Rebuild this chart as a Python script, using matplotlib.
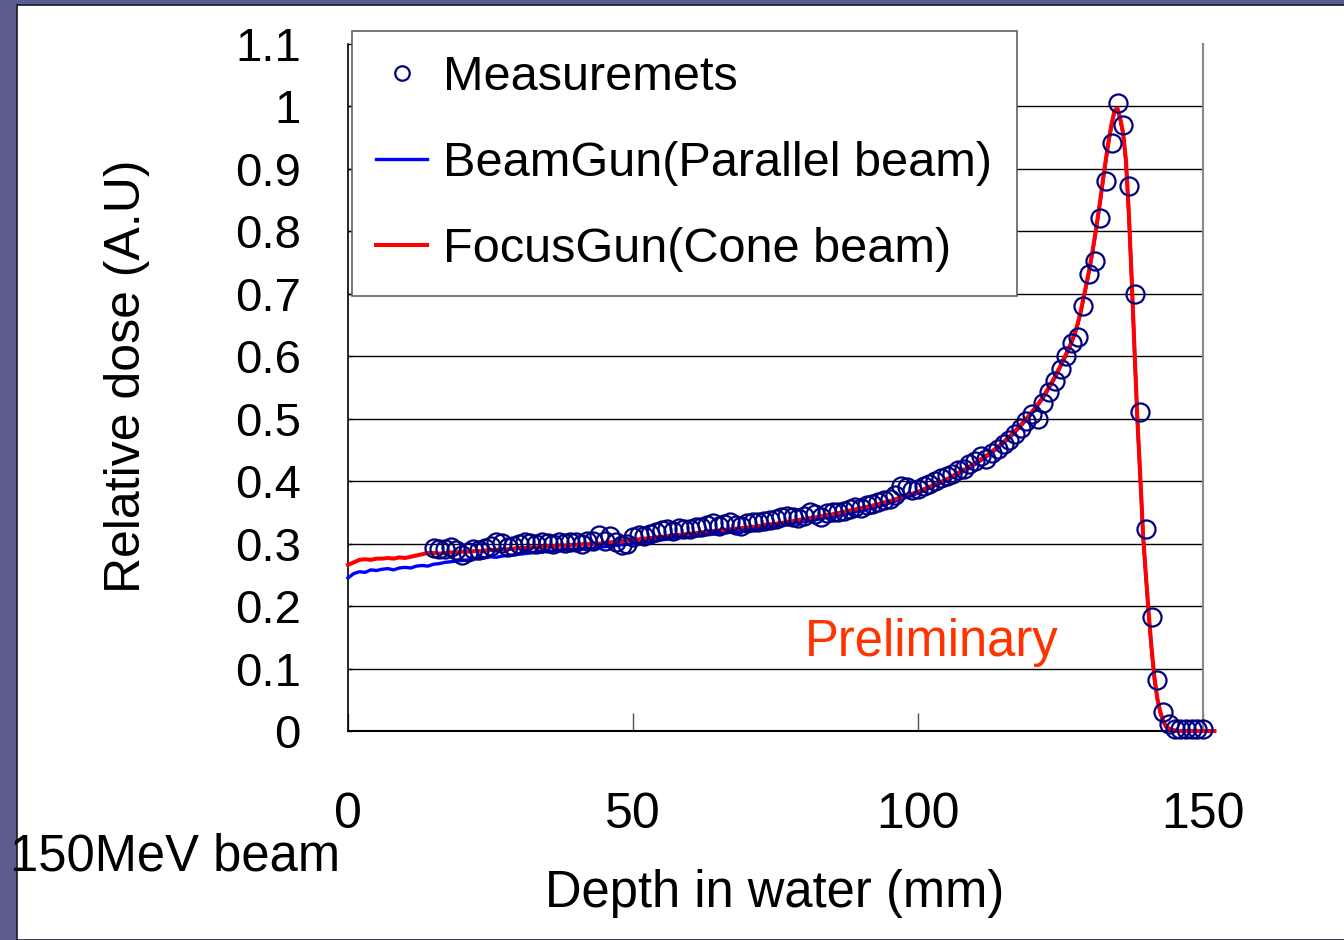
import numpy as np
import matplotlib
matplotlib.use("Agg")
import matplotlib.pyplot as plt
from matplotlib.patches import Rectangle

plt.rcParams["font.family"] = ["Liberation Sans", "DejaVu Sans"]

# --- data ---
# measurements, one every mm from 15 to 150 mm
meas_depth = np.arange(15, 151, 1)
meas_dose = [
    0.293, 0.292, 0.291, 0.294, 0.290, 0.282, 0.286, 0.292, 0.290, 0.293,
    0.296, 0.303, 0.301, 0.295, 0.297, 0.300, 0.302, 0.301, 0.300, 0.302,
    0.301, 0.300, 0.302, 0.301, 0.303, 0.302, 0.300, 0.304, 0.305, 0.314,
    0.305, 0.312, 0.302, 0.298, 0.299, 0.310, 0.314, 0.313, 0.315, 0.318,
    0.322, 0.324, 0.321, 0.325, 0.323, 0.324, 0.326, 0.327, 0.330, 0.333,
    0.328, 0.331, 0.334, 0.330, 0.328, 0.333, 0.335, 0.334, 0.336, 0.338,
    0.340, 0.342, 0.344, 0.343, 0.341, 0.345, 0.350, 0.348, 0.342, 0.349,
    0.351, 0.350, 0.352, 0.356, 0.358, 0.357, 0.362, 0.364, 0.367, 0.370,
    0.372, 0.378, 0.392, 0.390, 0.386, 0.388, 0.392, 0.396, 0.401, 0.405,
    0.408, 0.412, 0.418, 0.420, 0.427, 0.432, 0.440, 0.436, 0.445, 0.452,
    0.460, 0.466, 0.476, 0.485, 0.497, 0.508, 0.500, 0.525, 0.543, 0.560,
    0.580, 0.600, 0.622, 0.631, 0.681, 0.732, 0.752, 0.822, 0.881, 0.942,
    1.005, 0.971, 0.873, 0.700, 0.511, 0.324, 0.183, 0.082, 0.030, 0.012,
    0.004, 0.003, 0.003, 0.003, 0.003, 0.003,
]

# simulation grid: 1 mm up to 126, 0.5 mm through the peak, then 1 mm
sim_depth = np.concatenate([np.arange(0, 126.5, 1.0),
                            np.arange(126.5, 145.5, 0.5),
                            np.arange(146, 153, 1.0)])

beam_gun = [
    0.245, 0.252, 0.255, 0.254, 0.258, 0.257, 0.259, 0.260, 0.258, 0.261,
    0.262, 0.261, 0.264, 0.265, 0.264, 0.267, 0.268, 0.270, 0.271, 0.272,
    0.273, 0.274, 0.275, 0.276, 0.277, 0.279, 0.278, 0.280, 0.281, 0.282,
    0.283, 0.284, 0.285, 0.286, 0.286, 0.288, 0.288, 0.289, 0.290, 0.291,
    0.291, 0.292, 0.293, 0.292, 0.294, 0.295, 0.296, 0.297, 0.298, 0.299,
    0.300, 0.301, 0.302, 0.304, 0.305, 0.306, 0.307, 0.308, 0.309, 0.310,
    0.311, 0.312, 0.313, 0.314, 0.315, 0.316, 0.317, 0.318, 0.319, 0.320,
    0.321, 0.322, 0.324, 0.325, 0.327, 0.328, 0.329, 0.331, 0.332, 0.334,
    0.335, 0.337, 0.338, 0.340, 0.342, 0.343, 0.345, 0.347, 0.349, 0.351,
    0.353, 0.355, 0.357, 0.360, 0.362, 0.365, 0.368, 0.371, 0.374, 0.377,
    0.381, 0.385, 0.389, 0.393, 0.397, 0.401, 0.406, 0.411, 0.416, 0.421,
    0.427, 0.433, 0.439, 0.446, 0.453, 0.461, 0.469, 0.478, 0.488, 0.498,
    0.509, 0.521, 0.534, 0.549, 0.565, 0.583, 0.602,
    # 126.5 .. 145 (0.5 mm)
    0.612, 0.623, 0.635, 0.650, 0.668, 0.690, 0.712, 0.735, 0.760, 0.788,
    0.818, 0.850, 0.884, 0.916, 0.946, 0.972, 0.992, 0.995, 0.978, 0.955,
    0.910, 0.825, 0.720, 0.605, 0.495, 0.405, 0.310, 0.245, 0.183, 0.128,
    0.082, 0.050, 0.030, 0.015, 0.007, 0.003, 0.002, 0.001,
    # 146 .. 152
    0.0, 0.0, 0.0, 0.0, 0.0, 0.0, 0.0,
]

focus_gun = [
    0.266, 0.270, 0.274, 0.275, 0.274, 0.276, 0.276, 0.277, 0.276, 0.278,
    0.277, 0.279, 0.281, 0.283, 0.285, 0.285, 0.284, 0.285, 0.286, 0.286,
    0.287, 0.287, 0.288, 0.288, 0.289, 0.290, 0.290, 0.291, 0.291, 0.292,
    0.293, 0.293, 0.294, 0.294, 0.295, 0.296, 0.296, 0.297, 0.297, 0.298,
    0.298, 0.299, 0.299, 0.300, 0.300, 0.301, 0.302, 0.303, 0.304, 0.305,
    0.306, 0.307, 0.308, 0.309, 0.310, 0.311, 0.312, 0.313, 0.314, 0.315,
    0.316, 0.317, 0.318, 0.319, 0.320, 0.321, 0.322, 0.323, 0.324, 0.325,
    0.326, 0.327, 0.328, 0.330, 0.331, 0.332, 0.333, 0.335, 0.336, 0.338,
    0.339, 0.341, 0.342, 0.344, 0.346, 0.347, 0.349, 0.351, 0.353, 0.355,
    0.357, 0.359, 0.361, 0.363, 0.366, 0.368, 0.371, 0.374, 0.377, 0.380,
    0.383, 0.387, 0.391, 0.395, 0.399, 0.403, 0.408, 0.413, 0.418, 0.423,
    0.429, 0.435, 0.441, 0.448, 0.455, 0.463, 0.471, 0.480, 0.490, 0.500,
    0.511, 0.523, 0.536, 0.551, 0.567, 0.585, 0.604,
    # 126.5 .. 145 (0.5 mm)
    0.614, 0.625, 0.637, 0.652, 0.670, 0.692, 0.714, 0.737, 0.762, 0.790,
    0.820, 0.852, 0.886, 0.918, 0.948, 0.974, 0.994, 0.997, 0.980, 0.957,
    0.912, 0.827, 0.722, 0.607, 0.497, 0.407, 0.312, 0.247, 0.185, 0.130,
    0.084, 0.052, 0.031, 0.016, 0.008, 0.004, 0.002, 0.001,
    # 146 .. 152
    0.0, 0.0, 0.0, 0.0, 0.0, 0.0, 0.0,
]

x_ticks = [0, 50, 100, 150]
y_ticks = np.round(np.arange(0, 1.11, 0.1), 1)
y_labels = ["0", "0.1", "0.2", "0.3", "0.4", "0.5", "0.6", "0.7", "0.8", "0.9", "1", "1.1"]

W, H = 1344, 940
FS = 36.5      # axis titles
FS_TICK = 34
FS_LEG = 35

fig = plt.figure(figsize=(W / 100, H / 100), dpi=100)
fig.patch.set_facecolor("#5d5c8f")
# white slide panel, kept behind the axes
panel = Rectangle((17 / W, 0), 1, 1 - 5 / H, transform=fig.transFigure,
                  facecolor="white", edgecolor="#1a1a2a", linewidth=1.2, zorder=-5)
fig.patches.append(panel)

ax = fig.add_axes([348 / W, 1 - 731 / H, (1203 - 348) / W, (731 - 44) / H])
ax.set_zorder(1)
ax.set_facecolor("white")

ax.plot(sim_depth, beam_gun, color="#0000ff", lw=2.4, clip_on=False, zorder=3,
        label="BeamGun(Parallel beam)")
ax.plot(sim_depth, focus_gun, color="#ff0000", lw=2.9, clip_on=False, zorder=4,
        label="FocusGun(Cone beam)")
ax.plot(meas_depth, meas_dose, linestyle="none", marker="o", ms=13, mfc="none",
        mec="#000080", mew=1.6, clip_on=False, zorder=5, label="Measuremets")

ax.set_xlim(0, 150)
ax.set_ylim(0, 1.1)
ax.set_xticks(x_ticks)
ax.set_yticks(y_ticks)
ax.set_yticklabels(y_labels)
ax.yaxis.grid(True, color="black", lw=1.0)
ax.get_ygridlines()[-1].set_visible(False)
ax.set_axisbelow(True)
ax.tick_params(axis="x", direction="in", length=13, width=1, color="#555555",
               pad=44, labelsize=FS_TICK + 2)
ax.tick_params(axis="y", direction="in", length=3, width=1, pad=34, labelsize=FS_TICK)
ax.spines["top"].set_visible(False)
ax.spines["right"].set_color("#888888")
ax.spines["right"].set_linewidth(1.5)
ax.spines["left"].set_linewidth(1.2)
ax.spines["bottom"].set_linewidth(1.5)

handles, labels = ax.get_legend_handles_labels()
order = [2, 0, 1]
leg = ax.legend([handles[i] for i in order], [labels[i] for i in order],
                loc="upper left", bbox_to_anchor=(352 / W, 1 - 31 / H),
                bbox_transform=fig.transFigure, fontsize=FS_LEG, frameon=True,
                fancybox=False, edgecolor="#606060", framealpha=1,
                handlelength=1.05, handletextpad=0.33, borderpad=0.5,
                labelspacing=0.84, borderaxespad=0, markerscale=0.8)
leg.get_frame().set_linewidth(1.2)
leg.set_zorder(10)

fig.text(127 / W, 1 - 376 / H, "Relative dose (A.U)", rotation=90, fontsize=FS - 0.5,
         ha="center", va="center")
fig.text(775 / W, 1 - 893 / H, "Depth in water (mm)", fontsize=FS,
         ha="center", va="center")
fig.text(10 / W, 1 - 857 / H, "150MeV beam", fontsize=FS, ha="left", va="center")
ax.text(80.2, 0.142, "Preliminary", color="#ff3300", fontsize=FS,
        ha="left", va="center")

fig.savefig("out.png", dpi=100, facecolor=fig.get_facecolor())
